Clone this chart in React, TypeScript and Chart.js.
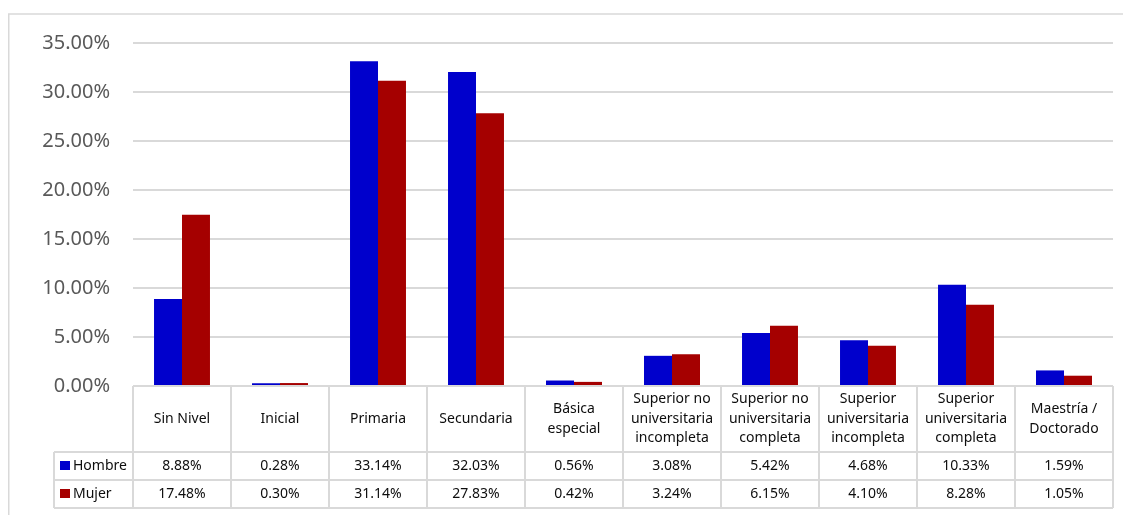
import React, { useEffect, useRef } from "react";
import { Chart, registerables } from "chart.js";

Chart.register(...registerables);

const categories: string[][] = [
  ["Sin Nivel"],
  ["Inicial"],
  ["Primaria"],
  ["Secundaria"],
  ["Básica", "especial"],
  ["Superior no", "universitaria", "incompleta"],
  ["Superior no", "universitaria", "completa"],
  ["Superior", "universitaria", "incompleta"],
  ["Superior", "universitaria", "completa"],
  ["Maestría /", "Doctorado"],
];
const seriesNames = ["Hombre", "Mujer"];
const hombre = [8.88, 0.28, 33.14, 32.03, 0.56, 3.08, 5.42, 4.68, 10.33, 1.59];
const mujer = [17.48, 0.3, 31.14, 27.83, 0.42, 3.24, 6.15, 4.1, 8.28, 1.05];
const colors = ["#0000CC", "#A50000"];

const FONT = "'Noto Sans', 'Open Sans', sans-serif";
const GRID = "#D9D9D9";

const fmt = (v: number) => v.toFixed(2) + "%";

const tablePlugin = {
  id: "dataTable",
  afterDraw(chart: any) {
    const ctx = chart.ctx as CanvasRenderingContext2D;
    const area = chart.chartArea;
    const n = categories.length;
    const colW = (area.right - area.left) / n;
    const top = area.bottom;
    const headerH = 66;
    const rowH = 28;
    const legendLeft = area.left - 79;
    const r1 = top + headerH;
    const r2 = r1 + rowH;
    const r3 = r2 + rowH;

    ctx.save();
    // outer chart border
    ctx.strokeStyle = GRID;
    ctx.lineWidth = 1.5;
    ctx.beginPath();
    ctx.moveTo(0.75, chart.height);
    ctx.lineTo(0.75, 6);
    ctx.lineTo(chart.width, 6);
    ctx.stroke();

    // table grid
    ctx.lineWidth = 2;
    ctx.beginPath();
    ctx.moveTo(area.left, top);
    ctx.lineTo(area.right, top);
    [r1, r2, r3].forEach((y) => {
      ctx.moveTo(legendLeft, y);
      ctx.lineTo(area.right, y);
    });
    for (let i = 0; i <= n; i++) {
      const x = area.left + i * colW;
      ctx.moveTo(x, top);
      ctx.lineTo(x, r3);
    }
    ctx.moveTo(legendLeft, r1);
    ctx.lineTo(legendLeft, r3);
    ctx.stroke();

    // header text
    ctx.fillStyle = "#0d0d0d";
    ctx.font = `14px ${FONT}`;
    ctx.textAlign = "center";
    ctx.textBaseline = "middle";
    const lh = 19.5;
    categories.forEach((lines, i) => {
      const cx = chart.scales.x.getPixelForValue(i);
      const cy = top + headerH / 2;
      lines.forEach((ln, j) => {
        ctx.fillText(ln, cx, cy + (j - (lines.length - 1) / 2) * lh);
      });
    });

    // rows
    const rows = [hombre, mujer];
    rows.forEach((vals, r) => {
      const cy = r1 + rowH * r + rowH / 2;
      ctx.textAlign = "center";
      vals.forEach((v, i) => {
        const cx = chart.scales.x.getPixelForValue(i);
        ctx.fillText(fmt(v), cx, cy);
      });
      ctx.fillStyle = colors[r];
      ctx.fillRect(legendLeft + 6, cy - 5, 10, 9);
      ctx.fillStyle = "#0d0d0d";
      ctx.textAlign = "left";
      ctx.fillText(seriesNames[r], legendLeft + 19, cy);
    });
    ctx.restore();
  },
};

export default function App() {
  const ref = useRef<HTMLCanvasElement>(null);
  useEffect(() => {
    document.documentElement.style.overflow = "hidden";
    const chart = new Chart(ref.current!, {
      type: "bar",
      data: {
        labels: categories.map((c) => c.join(" ")),
        datasets: [
          { label: seriesNames[0], data: hombre, backgroundColor: colors[0], borderWidth: 0 },
          { label: seriesNames[1], data: mujer, backgroundColor: colors[1], borderWidth: 0 },
        ],
      },
      options: {
        animation: false,
        responsive: true,
        maintainAspectRatio: false,
        layout: { padding: { left: 0, right: 25, top: 35, bottom: 129 } },
        plugins: { legend: { display: false }, tooltip: { enabled: false } },
        datasets: { bar: { categoryPercentage: 0.571, barPercentage: 1 } },
        scales: {
          x: { display: false },
          y: {
            min: 0,
            max: 35,
            afterFit: (s: any) => {
              s.width = 125;
            },
            border: { display: false },
            grid: { color: GRID, lineWidth: 2, drawTicks: false },
            ticks: {
              stepSize: 5,
              padding: 23,
              color: "#595959",
              font: { family: FONT, size: 20 },
              callback: (v: any) => fmt(Number(v)),
            },
          },
        },
      },
      plugins: [tablePlugin],
    });
    return () => chart.destroy();
  }, []);
  return (
    <div style={{ width: 1130, height: 507, position: "relative" }}>
      <canvas ref={ref} />
    </div>
  );
}
